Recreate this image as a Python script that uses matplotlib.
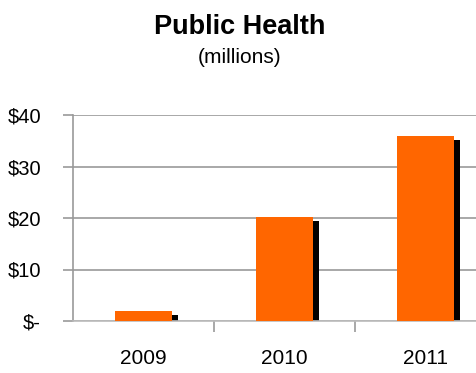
import matplotlib
matplotlib.use("Agg")
import matplotlib.pyplot as plt
from matplotlib import font_manager

# funding by fiscal year, $ millions
years = ["2009", "2010", "2011"]
funding = [1.9, 20.2, 36.0]
yticks = [0, 10, 20, 30, 40]
ytick_labels = ["$-", "$10", "$20", "$30", "$40"]

ORANGE = "#FF6600"
GRID = "#999999"

names = {f.name for f in font_manager.fontManager.ttflist}
narrow = "Liberation Sans Narrow" if "Liberation Sans Narrow" in names else "Liberation Sans"

fig = plt.figure(figsize=(4.77, 3.73), dpi=100)
ax = fig.add_axes([73 / 477, 52 / 373, 423 / 477, 206 / 373])

x = list(range(len(years)))
w = 0.40
# drop shadow: a few px right, a few px lower, sitting on the baseline
px_x = 6 / 141
px_y = 4 * 40 / 206
ax.bar([i + px_x for i in x], [v - px_y for v in funding], width=w, color="black", zorder=2)
ax.bar(x, funding, width=w, color=ORANGE, zorder=3)

ax.set_xlim(-0.5, 2.5)
ax.set_ylim(0, 40)
ax.set_yticks(yticks)
ax.set_yticklabels(ytick_labels, fontfamily=narrow, fontsize=14.5)
ax.yaxis.grid(True, color=GRID, lw=1.2)
ax.set_axisbelow(True)
ax.set_xticks([0.5, 1.5], minor=False)
ax.set_xticklabels([])
ax.set_xticks(x, minor=True)
ax.set_xticklabels(years, minor=True, fontfamily=narrow, fontsize=15)
ax.tick_params(axis="x", which="major", length=8, color=GRID, width=1.2)
ax.tick_params(axis="x", which="minor", length=0, pad=20)
ax.tick_params(axis="y", length=7, color=GRID, width=1.2, pad=16)
for s in ["top", "right"]:
    ax.spines[s].set_visible(False)
ax.spines["left"].set_color(GRID)
ax.spines["bottom"].set_color("#BBBBBB")
ax.spines["left"].set_linewidth(1.2)
ax.spines["bottom"].set_linewidth(1.2)

fig.text(0.503, 0.927, "Public Health", ha="center", va="center",
         fontfamily="Liberation Sans", fontweight="bold", fontsize=19.5)
fig.text(0.503, 0.845, "(millions)", ha="center", va="center",
         fontfamily=narrow, fontsize=15)

fig.savefig("out.png", dpi=100)
